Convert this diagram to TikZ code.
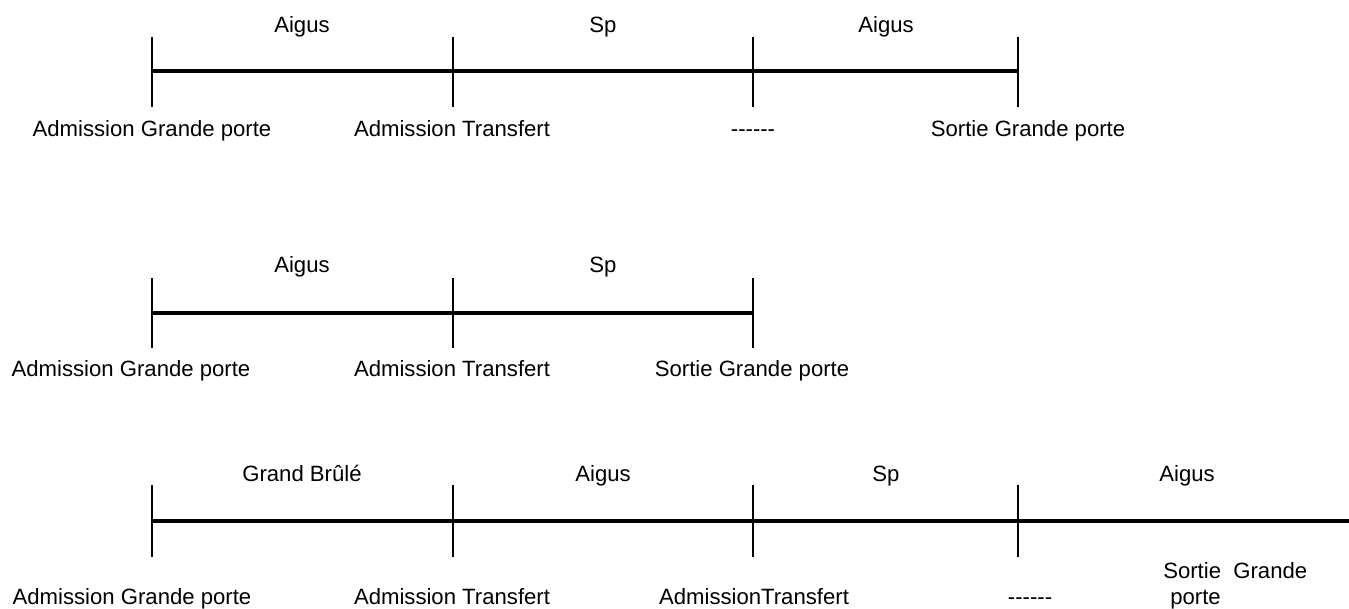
\documentclass[tikz,border=0pt]{standalone}
\usepackage{fontspec}
\setmainfont{Liberation Sans}
\begin{document}
\begin{tikzpicture}[x=0.75pt,y=-0.75pt,
  axis/.style={line width=2.5pt},
  tick/.style={line width=1.6pt},
  lbl/.style={inner sep=0pt,anchor=base,font=\fontsize{16.6}{20}\selectfont},
  lblw/.style={lbl,anchor=base west}]
\useasboundingbox (0,0) rectangle (1349,608);
% ---------- Row 1
\foreach \n/\x in {a/152,b/453,c/753,d/1018}{
  \coordinate (r1\n t) at (\x,37);
  \coordinate (r1\n b) at (\x,107);
  \coordinate (r1\n) at (\x,71);
  \draw[tick] (r1\n t) -- (r1\n b);
}
\draw[axis] (r1a) -- (r1d);
\node[lbl] (r1l1) at (302,32) {Aigus};
\node[lbl] (r1l2) at (603,32) {Sp};
\node[lbl] (r1l3) at (886,32) {Aigus};
\node[lbl] (r1b1) at (152,136) {Admission Grande porte};
\node[lbl] (r1b2) at (452,136) {Admission Transfert};
\node[lbl] (r1b3) at (753,136) {-{}-{}-{}-{}-{}-};
\node[lbl] (r1b4) at (1028,136) {Sortie Grande porte};
% ---------- Row 2
\foreach \n/\x in {a/152,b/453,c/753}{
  \coordinate (r2\n t) at (\x,278);
  \coordinate (r2\n b) at (\x,348);
  \coordinate (r2\n) at (\x,313);
  \draw[tick] (r2\n t) -- (r2\n b);
}
\draw[axis] (r2a) -- (r2c);
\node[lbl] (r2l1) at (302,272) {Aigus};
\node[lbl] (r2l2) at (603,272) {Sp};
\node[lbl] (r2b1) at (131,376) {Admission Grande porte};
\node[lbl] (r2b2) at (452,376) {Admission Transfert};
\node[lbl] (r2b3) at (752,376) {Sortie Grande porte};
% ---------- Row 3
\foreach \n/\x in {a/152,b/453,c/753,d/1018}{
  \coordinate (r3\n t) at (\x,485);
  \coordinate (r3\n b) at (\x,557);
  \coordinate (r3\n) at (\x,521);
  \draw[tick] (r3\n t) -- (r3\n b);
}
\coordinate (r3end) at (1349,521);
\draw[axis] (r3a) -- (r3end);
\node[lbl] (r3l1) at (302,481) {Grand Brûlé};
\node[lbl] (r3l2) at (603,481) {Aigus};
\node[lbl] (r3l3) at (886,481) {Sp};
\node[lbl] (r3l4) at (1187,481) {Aigus};
\node[lbl] (r3b1) at (132,604) {Admission Grande porte};
\node[lbl] (r3b2) at (452,604) {Admission Transfert};
\node[lbl] (r3b3) at (754,604) {AdmissionTransfert};
\node[lbl] (r3b4) at (1030,604) {-{}-{}-{}-{}-{}-};
\node[lblw] (r3b5) at (1163,578) {Sortie\ \ Grande};
\node[lblw] (r3b6) at (1170,604) {porte};
\end{tikzpicture}
\end{document}
